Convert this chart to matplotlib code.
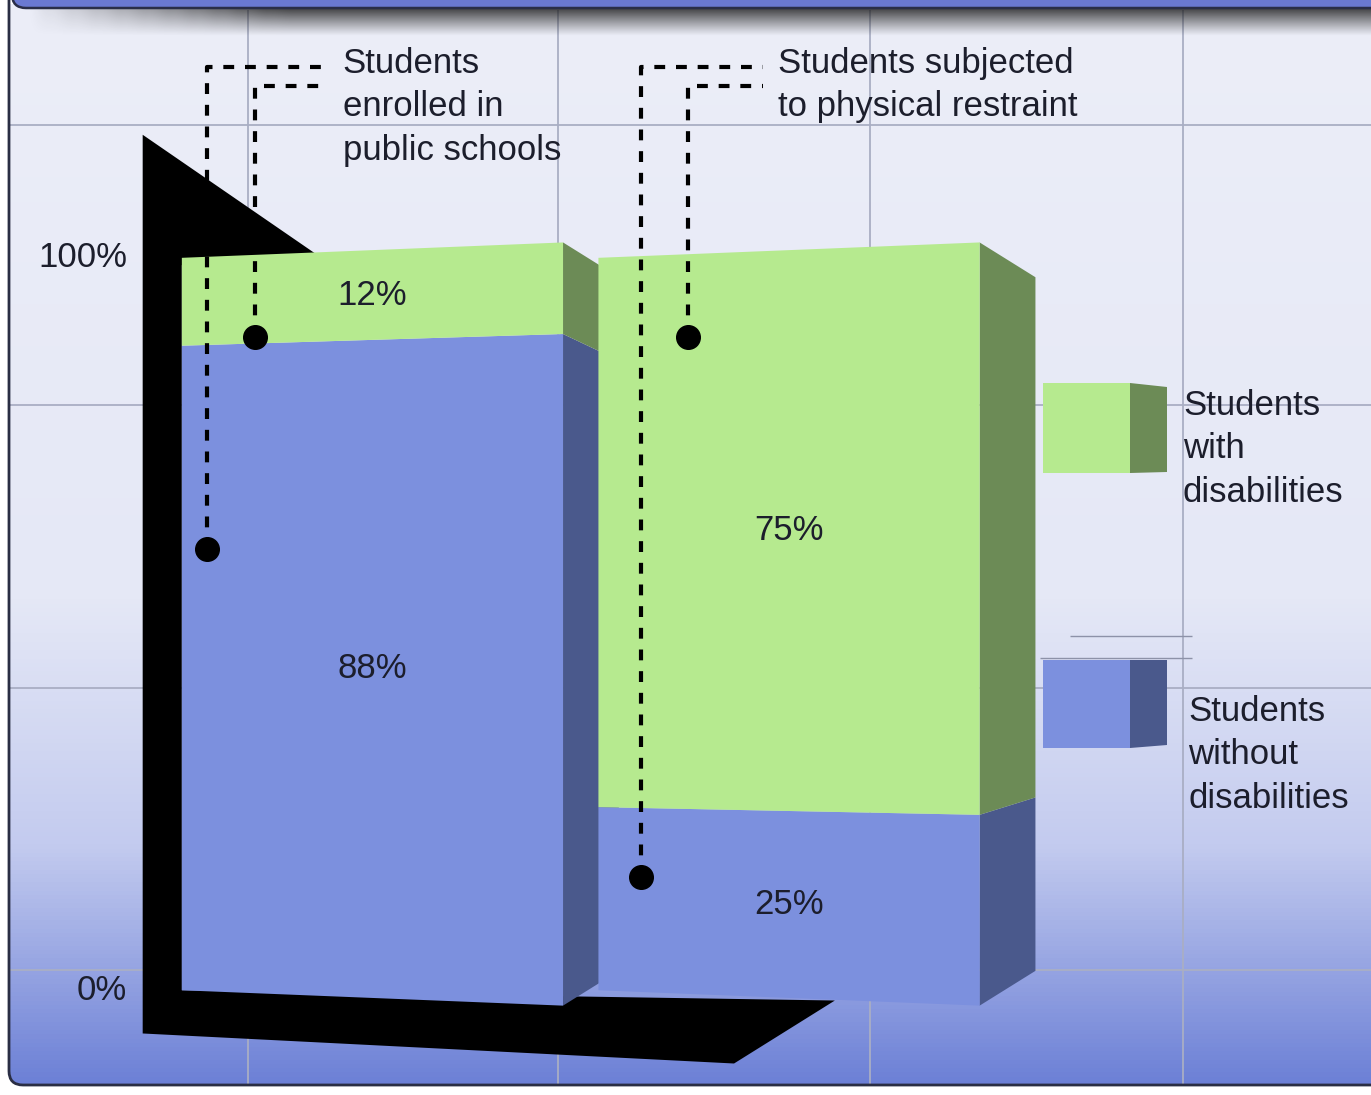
import numpy as np
import matplotlib.pyplot as plt
from matplotlib.patches import Polygon, FancyBboxPatch, Rectangle
from matplotlib.colors import LinearSegmentedColormap

plt.rcParams['font.family'] = ['Liberation Sans', 'DejaVu Sans']

# data
groups = ['Students\nenrolled in\npublic schools', 'Students subjected\nto physical restraint']
without_dis = [88, 25]      # bottom (blue) segment
with_dis = [12, 75]         # top (green) segment
series = ['Students\nwith\ndisabilities', 'Students\nwithout\ndisabilities']
y_ticks = [0, 100]

green, green_side = '#b6ea8f', '#6c8b56'
blue, blue_side = '#7c90de', '#4a598c'
ink = '#1c1e2c'
FS = 25
LS = 1.4

W, H = 1371, 1095
fig = plt.figure(figsize=(W / 100, H / 100), dpi=100)

# ---- background panel (pixel units) ----
bg = fig.add_axes([0, 0, 1, 1])
bg.set_xlim(0, W)
bg.set_ylim(H, 0)
bg.axis('off')

frame = FancyBboxPatch((9, -30), W + 60, 1115, boxstyle='round,pad=0,rounding_size=14',
                       fc='none', ec='#2a2e44', lw=2, zorder=5)
bg.add_patch(frame)
cmap = LinearSegmentedColormap.from_list('panel', [(0, '#eceef8'), (0.55, '#e5e8f6'),
                                                   (0.78, '#c3cbef'), (1, '#6c80d6')])
grad = np.linspace(0, 1, 256).reshape(-1, 1)
im = bg.imshow(grad, extent=[9, W + 70, 1085, 4], aspect='auto', cmap=cmap, zorder=0)
im.set_clip_path(frame)

# decorative grid
for gx in [248, 558, 870, 1183]:
    bg.vlines(gx, 10, 1084, color='#a9aec4', lw=1.3, zorder=1)
for gy in [125, 405, 688, 970]:
    bg.hlines(gy, 10, W, color='#a9aec4', lw=1.3, zorder=1)

# header strip and its shadow
shadow = np.zeros((64, 64, 4))
shadow[..., :3] = 0.12
fade_x = np.clip(np.linspace(0, 6, 64), 0, 1)
shadow[:, :, 3] = (np.linspace(0.85, 0, 64) ** 1.1)[:, None] * fade_x[None, :]
bg.imshow(shadow, extent=[14, W + 200, 36, 8], aspect='auto', zorder=2)
bg.add_patch(FancyBboxPatch((12, -30), W + 40, 38, boxstyle='round,pad=0,rounding_size=14',
                            fc='#6a79d2', ec='#2a2e48', lw=1.8, zorder=6))

# legend cubes
bg.add_patch(Rectangle((1043, 383), 87, 90, fc=green, ec='none', zorder=3))
bg.add_patch(Polygon([(1130, 383), (1167, 387), (1167, 472), (1130, 473)], fc=green_side, ec='none', zorder=3))
bg.add_patch(Rectangle((1043, 660), 87, 88, fc=blue, ec='none', zorder=3))
bg.add_patch(Polygon([(1130, 660), (1167, 660), (1167, 745), (1130, 748)], fc=blue_side, ec='none', zorder=3))
bg.hlines([636, 658], [1070, 1040], [1192, 1192], color='#8d92a8', lw=1, zorder=2)
bg.text(1183, 389, series[0], fontsize=FS, color=ink, va='top', ha='left', linespacing=LS, zorder=4)
bg.text(1188, 695, series[1], fontsize=FS, color=ink, va='top', ha='left', linespacing=LS, zorder=4)

# ---- chart axes (x: bar index, y: percent) ----
ax = fig.add_axes([0, 0, 1, 1])
ax.set_xlim(-0.894, 2.397)
ax.set_ylim(-14.3, 135.2)
ax.axis('off')
ax.patch.set_alpha(0)

x = np.arange(len(groups))
width = 0.915
depth = 0.134
flare, back = 1.042, 0.947   # perspective scaling of the right edge / back edge


def persp(p, s):
    return 50 + (p - 50) * s


# black stage (wall + floor) behind the bars
xl0 = x[0] - width / 2
stage = [(xl0 - 0.094, 116.8), (xl0 + 0.325, 100.4), (xl0, 99.0), (xl0, 0),
         (x[1] + 0.11, -1.4), (x[1] - 0.132, -10.0), (xl0 - 0.094, -5.9)]
ax.add_patch(Polygon(stage, closed=True, fc='black', ec='none', zorder=1))

for i in range(len(groups)):
    xl, xr = x[i] - width / 2, x[i] + width / 2
    segs = [(0, without_dis[i], blue, blue_side),
            (without_dis[i], without_dis[i] + with_dis[i], green, green_side)]
    for lo, hi, fc, sc in segs:
        ax.add_patch(Polygon([(xr, persp(lo, flare)), (xr + depth, persp(lo, back)),
                              (xr + depth, persp(hi, back)), (xr, persp(hi, flare))],
                             fc=sc, ec='none', zorder=2 + i))
        ax.add_patch(Polygon([(xl, lo), (xr, persp(lo, flare)), (xr, persp(hi, flare)), (xl, hi)],
                             fc=fc, ec='none', zorder=2 + i))
        ax.text(x[i], persp((lo + hi) / 2, 1.02), f'{hi - lo:g}%', fontsize=FS, color=ink,
                ha='center', va='center', zorder=6)

for t in y_ticks:
    ax.text(-0.589, t, f'{t}%', fontsize=FS, color=ink, ha='right', va='center', zorder=6)

# leader lines: (outer dot, inner dot) per group, text position
outer_dots = [(-0.397, 60.2), (0.645, 15.4)]
inner_dots = [(-0.282, 89.2), (0.757, 89.2)]
text_x = [-0.071, 0.974]
for i in range(len(groups)):
    for (dx, dy), top in [(outer_dots[i], 126.1), (inner_dots[i], 123.4)]:
        ax.plot([dx, dx, text_x[i] - 0.036], [dy, top, top], color='black', lw=3,
                ls=(0, (2.6, 2.6)), solid_capstyle='butt', zorder=7)
        ax.plot(dx, dy, 'o', color='black', ms=17, zorder=8)
    ax.text(text_x[i], 128.8, groups[i], fontsize=FS, color=ink, ha='left', va='top',
            linespacing=LS, zorder=8)

fig.savefig('out.png', dpi=100)
